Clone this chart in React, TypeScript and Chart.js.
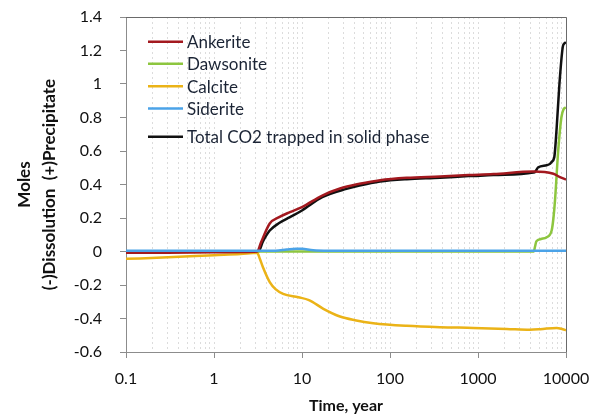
import React, { useEffect, useRef } from "react";
import { Chart, registerables } from "chart.js";

Chart.register(...registerables);

const FONT = "Lato, 'Open Sans', 'DejaVu Sans', sans-serif";

// Series names and colours, in legend order
const seriesNames = ["Ankerite", "Dawsonite", "Calcite", "Siderite", "Total CO2 trapped in solid phase"];
const seriesColors = ["#a3191f", "#8dc63f", "#ebb317", "#4ba3e8", "#111111"];

// Ankerite precipitation (moles) vs time (years)
const ankeriteTime = [0.1, 0.3, 1, 2, 3.1, 3.4, 4.3, 5.5, 7.3, 10, 17, 27, 45, 77, 155, 370, 780, 1500, 4250, 7200, 8400, 10000];
const ankeriteMoles = [-0.008, -0.007, -0.005, -0.003, 0, 0.05, 0.167, 0.205, 0.235, 0.265, 0.334, 0.376, 0.404, 0.426, 0.44, 0.448, 0.456, 0.462, 0.478, 0.464, 0.446, 0.43];

// Dawsonite
const dawsoniteTime = [0.1, 1, 10, 100, 1000, 4300, 4450, 4600, 5200, 6030, 6870, 7200, 7500, 8150, 8860, 9400, 10000];
const dawsoniteMoles = [0, 0, 0, 0, 0, 0, 0.03, 0.06, 0.075, 0.085, 0.125, 0.2, 0.305, 0.6, 0.8, 0.85, 0.86];

// Calcite
const calciteTime = [0.1, 0.3, 1, 2, 3.1, 3.3, 3.6, 4.3, 5, 6.1, 9.1, 12, 17.5, 27, 40, 64.6, 155, 370, 885, 2120, 3890, 5100, 7840, 9180, 10000];
const calciteMoles = [-0.044, -0.035, -0.022, -0.015, -0.008, -0.04, -0.094, -0.183, -0.225, -0.253, -0.273, -0.29, -0.342, -0.388, -0.41, -0.428, -0.444, -0.452, -0.456, -0.462, -0.467, -0.464, -0.456, -0.464, -0.47];

// Siderite
const sideriteTime = [0.1, 1, 5, 6.7, 8.5, 10, 13.4, 20, 100, 1000, 10000];
const sideriteMoles = [0.005, 0.005, 0.005, 0.012, 0.017, 0.016, 0.008, 0.005, 0.004, 0.004, 0.004];

// Total CO2 trapped in solid phase
const totalTime = [0.1, 1, 3.2, 3.6, 4.3, 5.5, 7.3, 10, 17, 32, 45, 77, 155, 370, 780, 1500, 4250, 4450, 4840, 6030, 6580, 6870, 7360, 7840, 8420, 9180, 9500, 10000];
const totalMoles = [0, 0, 0, 0.06, 0.125, 0.17, 0.205, 0.245, 0.324, 0.374, 0.394, 0.418, 0.432, 0.44, 0.45, 0.456, 0.472, 0.475, 0.503, 0.515, 0.523, 0.535, 0.563, 0.742, 1.0, 1.22, 1.24, 1.25];

// Axis ranges
const xMin = 0.1;
const xMax = 10000;
const yMin = -0.6;
const yMax = 1.4;
const yStep = 0.2;

const seriesTimes = [ankeriteTime, dawsoniteTime, calciteTime, sideriteTime, totalTime];
const seriesMoles = [ankeriteMoles, dawsoniteMoles, calciteMoles, sideriteMoles, totalMoles];
// drawing order: lower number is painted on top
const seriesOrder = [1, 2, 3, 0, 4];

const isDecade = (v: number) => {
  const l = Math.log10(v);
  return Math.abs(l - Math.round(l)) < 1e-6;
};

const decadeLabel = (v: number) => (v < 1 ? v.toFixed(1) : String(Math.round(v)));

// Legend drawn inside the plot area, top-left
const insideLegend = {
  id: "insideLegend",
  afterDatasetsDraw(chart: any) {
    const { ctx, chartArea } = chart;
    const rowOffsets = [24.7, 46.8, 69.2, 91.4, 119.7];
    const x0 = chartArea.left + 22;
    const x1 = chartArea.left + 57;
    ctx.save();
    ctx.setLineDash([]);
    ctx.font = `17px ${FONT}`;
    ctx.textBaseline = "middle";
    ctx.textAlign = "left";
    seriesNames.forEach((name, i) => {
      const y = chartArea.top + rowOffsets[i];
      ctx.strokeStyle = seriesColors[i];
      ctx.lineWidth = 2.5;
      ctx.beginPath();
      ctx.moveTo(x0, y);
      ctx.lineTo(x1, y);
      ctx.stroke();
      ctx.fillStyle = "#1b2435";
      ctx.fillText(name, x1 + 4, y + 1);
    });
    ctx.restore();
  },
};

// Frame along the top and right of the plot area
const plotFrame = {
  id: "plotFrame",
  afterDraw(chart: any) {
    const { ctx, chartArea } = chart;
    const top = Math.round(chartArea.top) + 0.5;
    const right = Math.round(chartArea.right) + 0.5;
    ctx.save();
    ctx.setLineDash([]);
    ctx.strokeStyle = "#6a6a6a";
    ctx.lineWidth = 1;
    ctx.beginPath();
    ctx.moveTo(chartArea.left, top);
    ctx.lineTo(right, top);
    ctx.lineTo(right, chartArea.bottom);
    ctx.stroke();
    ctx.restore();
  },
};

export default function App() {
  const canvasRef = useRef<HTMLCanvasElement | null>(null);

  useEffect(() => {
    const canvas = canvasRef.current;
    if (!canvas) return;

    const datasets = seriesNames.map((name, i) => ({
      label: name,
      data: seriesTimes[i].map((t, k) => ({ x: t, y: seriesMoles[i][k] })),
      borderColor: seriesColors[i],
      backgroundColor: seriesColors[i],
      borderWidth: 2.5,
      pointRadius: 0,
      cubicInterpolationMode: "monotone" as const,
      fill: false,
      order: seriesOrder[i],
    }));

    const chart = new Chart(canvas, {
      type: "line",
      data: { datasets },
      plugins: [plotFrame, insideLegend],
      options: {
        responsive: false,
        animation: false,
        parsing: false,
        layout: { padding: { top: 17, right: 31, left: 0, bottom: 0 } },
        plugins: {
          legend: { display: false },
          tooltip: { enabled: false },
        },
        scales: {
          x: {
            type: "logarithmic",
            min: xMin,
            max: xMax,
            afterBuildTicks: (scale: any) => {
              const ticks: any[] = [];
              for (let e = -1; e <= 4; e++) {
                for (let m = 1; m <= 9; m++) {
                  const v = m * Math.pow(10, e);
                  if (v > xMax * 1.0001) break;
                  ticks.push({ value: v, major: m === 1 });
                }
              }
              scale.ticks = ticks;
            },
            afterFit: (scale: any) => {
              scale.height = 64;
              scale.paddingLeft = 0;
              scale.paddingRight = 0;
            },
            ticks: {
              autoSkip: false,
              maxRotation: 0,
              padding: 11,
              color: "#111111",
              font: { family: FONT, size: 16 },
              callback: (value: any) => (isDecade(Number(value)) ? decadeLabel(Number(value)) : ""),
            },
            grid: {
              drawOnChartArea: true,
              color: "#dcdcdc",
              lineWidth: 1,
              tickLength: 6,
              tickColor: (ctx: any) => (ctx.tick && isDecade(ctx.tick.value) ? "#8c8c8c" : "rgba(0,0,0,0)"),
            },
            border: { display: true, color: "#8c8c8c", width: 1, dash: [2, 3] },
            title: {
              display: true,
              text: "Time, year",
              color: "#111111",
              font: { family: FONT, size: 16, weight: "bold", lineHeight: "19px" },
              padding: { top: 0, bottom: 0.5 },
            },
          },
          y: {
            type: "linear",
            min: yMin,
            max: yMax,
            afterFit: (scale: any) => {
              scale.width = 126;
              scale.paddingTop = 0;
              scale.paddingBottom = 0;
            },
            ticks: {
              stepSize: yStep,
              padding: 18,
              color: "#111111",
              font: { family: FONT, size: 16 },
              callback: (value: any) => String(Number(Number(value).toFixed(1))),
            },
            grid: {
              drawOnChartArea: false,
              tickLength: 6,
              tickColor: "#8c8c8c",
            },
            border: { display: true, color: "#8c8c8c", width: 1 },
            title: {
              display: true,
              text: ["Moles", "(-)Dissolution  (+)Precipitate"],
              color: "#111111",
              font: { family: FONT, size: 17, weight: "bold", lineHeight: "25px" },
              padding: { top: 12, bottom: 0 },
            },
          },
        },
      },
    } as any);

    return () => {
      chart.destroy();
    };
  }, []);

  return (
    <div style={{ position: "fixed", left: 0, top: 0, width: 597, height: 416, background: "#ffffff" }}>
      <canvas ref={canvasRef} width={597} height={416} style={{ display: "block", width: 597, height: 416 }} />
    </div>
  );
}
